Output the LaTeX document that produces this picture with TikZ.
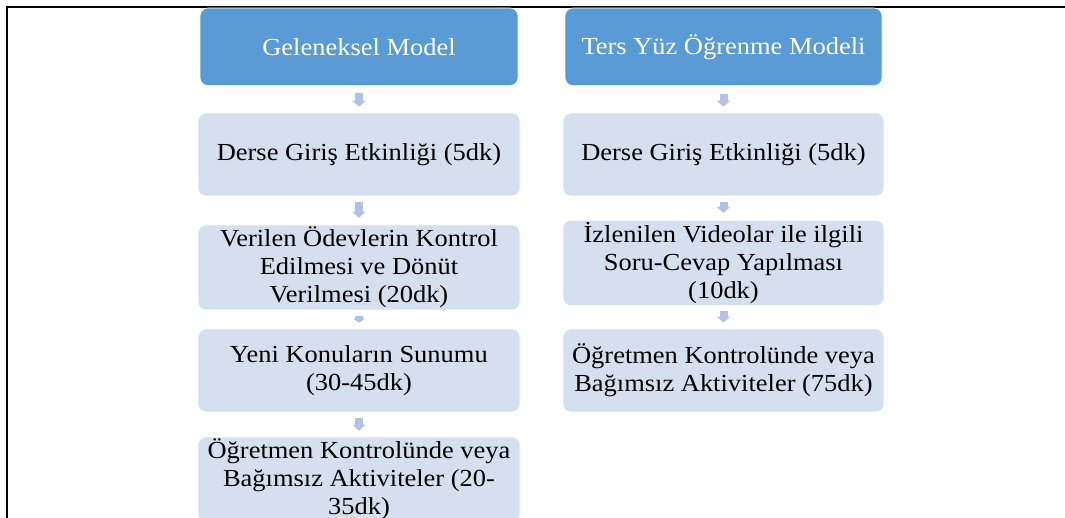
\documentclass[tikz,border=0pt]{standalone}
\usepackage{fontspec}
\setmainfont{Liberation Serif}[FakeStretch=1.08]
\usetikzlibrary{arrows.meta}
\definecolor{hdrblue}{HTML}{5B9BD5}
\definecolor{boxfill}{HTML}{D5DFEE}
\definecolor{arrowblue}{HTML}{AFC4E5}
\tikzset{
  base/.style={rectangle, rounded corners=8pt, align=center, inner sep=2pt,
    font=\fontsize{24.5}{28}\selectfont},
  hdr/.style={base, fill=hdrblue, draw=white, line width=0.6pt, text=white},
  stepbox/.style={base, fill=boxfill, draw=white, line width=0.6pt, text=black},
  flow/.style={draw=arrowblue, line width=8pt,
    -{Triangle[width=13pt,length=6pt]}},
}
\begin{document}
\begin{tikzpicture}[x=1pt,y=-1pt]
\useasboundingbox (0,0) rectangle (1065,518);
\clip (0,0) rectangle (1065,518);
% frame
\draw[line width=2pt] (7,520) -- (7,6.6) -- (1066,6.6);
% left column
\node[hdr, minimum width=318pt, minimum height=77.6pt] (L0) at (359,46.8) {Geleneksel Model};
\node[stepbox, minimum width=322pt, minimum height=83pt] (L1) at (359,154.5) {Derse Giriş Etkinliği (5dk)};
\node[stepbox, minimum width=322pt, minimum height=83pt] (L2) at (359,267.5) {Verilen Ödevlerin Kontrol\\Edilmesi ve Dönüt\\Verilmesi (20dk)};
\node[stepbox, minimum width=322pt, minimum height=83pt] (L3) at (359,370.5) {Yeni Konuların Sunumu\\(30-45dk)};
\node[stepbox, minimum width=322pt, minimum height=83pt] (L4) at (359,479.5) {Öğretmen Kontrolünde veya\\Bağımsız Aktiviteler (20-\\35dk)};
% right column
\node[hdr, minimum width=317pt, minimum height=77.6pt] (R0) at (723.5,46.8) {Ters Yüz Öğrenme Modeli};
\node[stepbox, minimum width=321pt, minimum height=83pt] (R1) at (723.5,154.5) {Derse Giriş Etkinliği (5dk)};
\node[stepbox, minimum width=321pt, minimum height=82pt] (R2) at (723.5,263) {İzlenilen Videolar ile ilgili\\Soru-Cevap Yapılması\\(10dk)};
\node[stepbox, minimum width=321pt, minimum height=83pt] (R3) at (723.5,370.5) {Öğretmen Kontrolünde veya\\Bağımsız Aktiviteler (75dk)};
% arrows
\draw[flow, shorten <=7.4pt, shorten >=6pt] (L0) -- (L1);
\draw[flow, shorten <=6pt, shorten >=7pt] (L1) -- (L2);
\draw[flow, shorten <=6pt, shorten >=6pt, -{Triangle[width=12pt,length=4pt]}] (L2) -- (L3);
\draw[flow, shorten <=6pt, shorten >=6pt] (L3) -- (L4);
\draw[flow, shorten <=8pt, shorten >=6pt] (R0) -- (R1);
\draw[flow, shorten <=6pt, shorten >=7pt] (R1) -- (R2);
\draw[flow, shorten <=5pt, shorten >=6pt] (R2) -- (R3);
\end{tikzpicture}
\end{document}
